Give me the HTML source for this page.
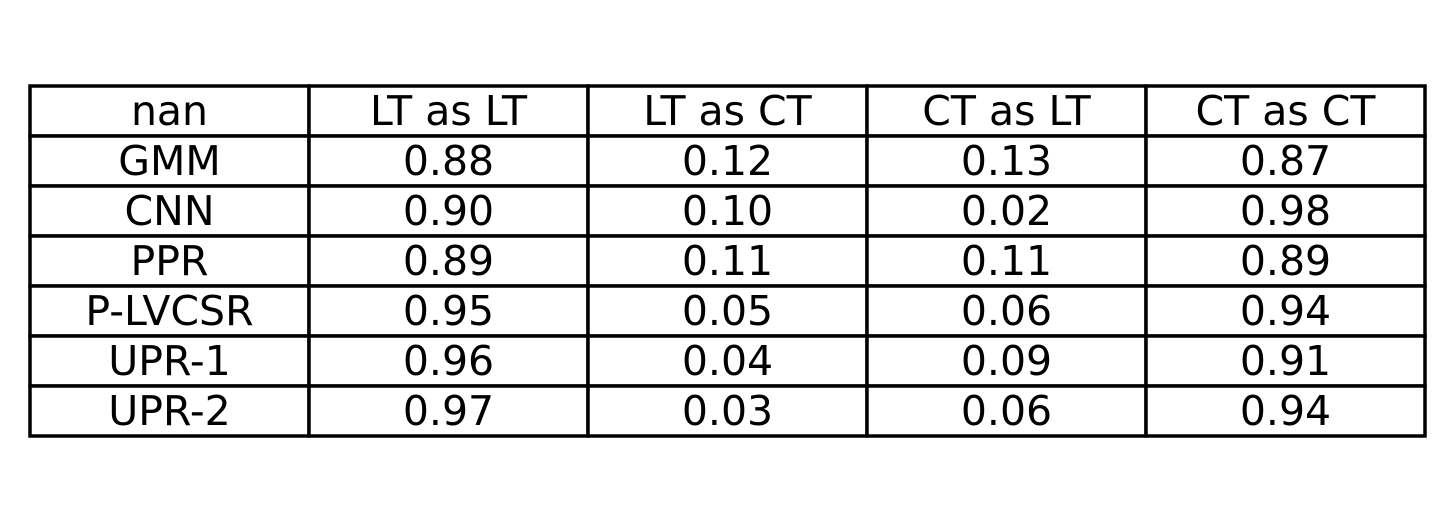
<!DOCTYPE html>
<html><head><meta charset="utf-8">
<style>
html,body{margin:0;padding:0;background:#fff;}
svg{display:block;}
text{font-family:"DejaVu Sans","Liberation Sans",sans-serif;font-size:41px;fill:#000;}
</style></head>
<body>
<svg id="chart" width="1455" height="522" xmlns="http://www.w3.org/2000/svg"></svg>
<script>
const columns = ["nan", "LT as LT", "LT as CT", "CT as LT", "CT as CT"];
const models = ["GMM", "CNN", "PPR", "P-LVCSR", "UPR-1", "UPR-2"];
const ltAsLt = ["0.88", "0.90", "0.89", "0.95", "0.96", "0.97"];
const ltAsCt = ["0.12", "0.10", "0.11", "0.05", "0.04", "0.03"];
const ctAsLt = ["0.13", "0.02", "0.11", "0.06", "0.09", "0.06"];
const ctAsCt = ["0.87", "0.98", "0.89", "0.94", "0.91", "0.94"];

const svg = document.getElementById('chart');
const NS = "http://www.w3.org/2000/svg";
const x0 = 30, x1 = 1425, y0 = 86, rowH = 50;
const nCols = columns.length;
const colW = (x1 - x0) / nCols;
const rows = [columns].concat(models.map((m, i) => [m, ltAsLt[i], ltAsCt[i], ctAsLt[i], ctAsCt[i]]));
const colX = c => x0 + c * colW;
const rowY = r => y0 + r * rowH;

rows.forEach((row, r) => {
  row.forEach((val, c) => {
    const rect = document.createElementNS(NS, 'rect');
    rect.setAttribute('x', colX(c));
    rect.setAttribute('y', rowY(r));
    rect.setAttribute('width', colW);
    rect.setAttribute('height', rowH);
    rect.setAttribute('fill', '#fff');
    rect.setAttribute('stroke', '#000');
    rect.setAttribute('stroke-width', '3.5');
    
    
    svg.appendChild(rect);
  });
});
rows.forEach((row, r) => {
  row.forEach((val, c) => {
    const t = document.createElementNS(NS, 'text');
    t.setAttribute('x', colX(c) + colW / 2);
    t.setAttribute('y', rowY(r) + rowH / 2 + 14);
    t.setAttribute('text-anchor', 'middle');
    t.textContent = val;
    
    
    svg.appendChild(t);
  });
});
</script>
</body></html>
